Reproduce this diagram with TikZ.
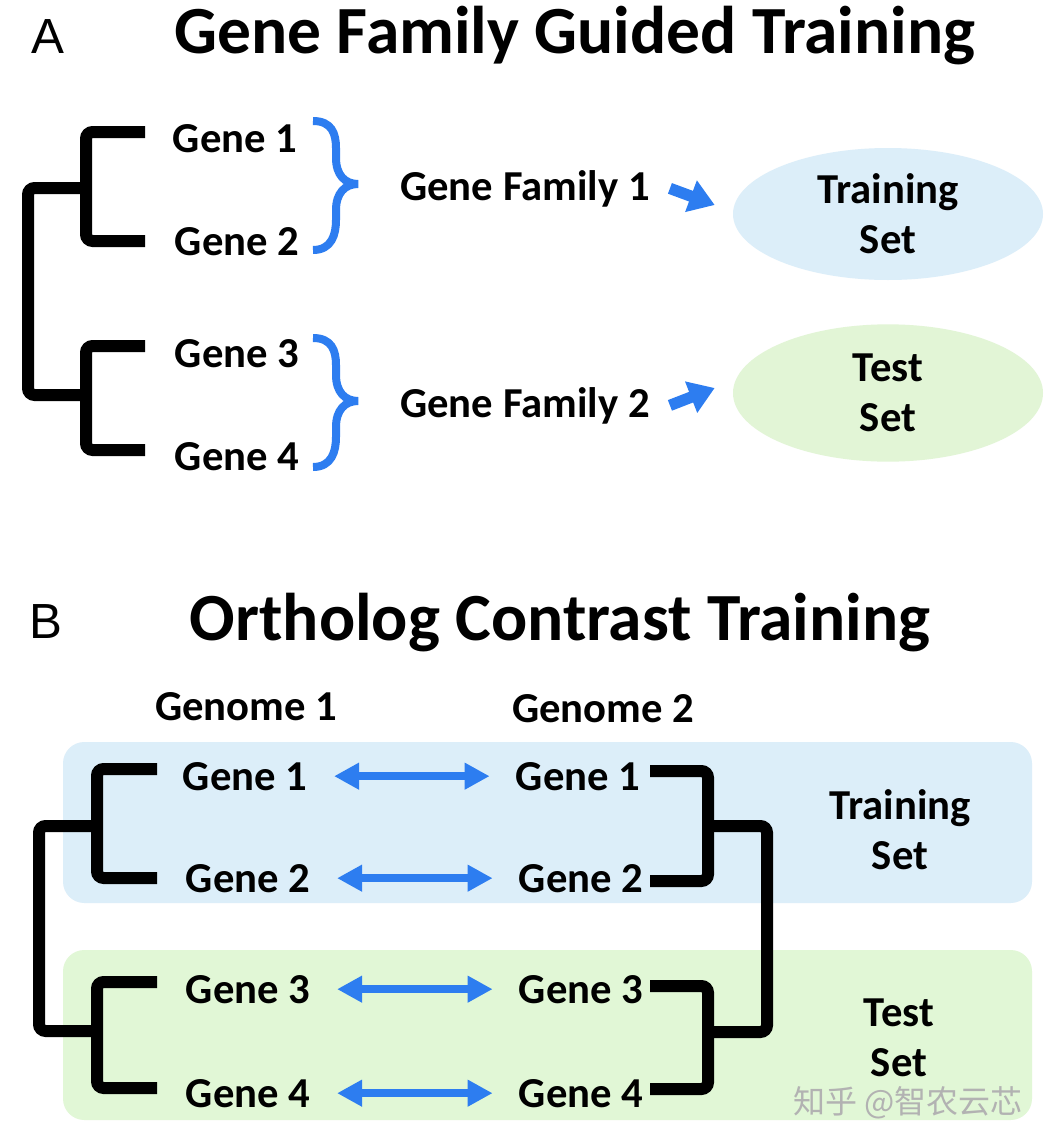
\documentclass[tikz,border=0pt]{standalone}
\usepackage{fontspec}
\setmainfont{Carlito}
\newfontfamily\lblfont{Liberation Sans}
\newfontfamily\cjkfont{Noto Sans CJK SC}
\usetikzlibrary{arrows.meta,shapes.geometric}
\definecolor{arrowblue}{RGB}{45,125,240}
\definecolor{bgblue}{RGB}{220,238,249}
\definecolor{bggreen}{RGB}{225,247,214}
\definecolor{elgreen}{RGB}{226,245,214}
\tikzset{
 tree/.style={line width=9pt, rounded corners=5pt},
 gene/.style={font=\bfseries\fontsize{32}{38}\selectfont, inner sep=0pt, anchor=base},
 titletext/.style={font=\bfseries\fontsize{50.6}{60}\selectfont, inner sep=0pt, anchor=base},
 panellabel/.style={font=\lblfont\fontsize{37}{44}\selectfont, inner sep=0pt, anchor=base},
 setlabel/.style={font=\bfseries\fontsize{32}{37.5}\selectfont, align=center, inner sep=0pt},
 bracestyle/.style={draw=arrowblue, line width=6pt},
 blockarrow/.style={draw=arrowblue, line width=8.5pt, -{Triangle[length=19pt,width=24pt]}},
 dblarrow/.style={draw=arrowblue, line width=6pt,
   {Triangle[length=18.75pt,width=19pt]}-{Triangle[length=18.75pt,width=19pt]},
   shorten <=20pt, shorten >=19.5pt},
 gbrace/.pic={\draw[bracestyle] (-45,-63) .. controls (-26,-63) and (-22,-50) .. (-22,-36) -- (-22,-26)
   .. controls (-22,-9) and (-13,0) .. (0,0)
   .. controls (-13,0) and (-22,9) .. (-22,26) -- (-22,36)
   .. controls (-22,50) and (-26,66) .. (-45,66);}
}
\begin{document}
\begin{tikzpicture}[x=0.75pt,y=-0.75pt]
\useasboundingbox[fill=white] (0,0) rectangle (1047,1142);

% ---------------- Panel A ----------------
\node[panellabel] (labA) at (48,53) {A};
\node[titletext] (titleA) at (575,53) {Gene Family Guided Training};

\node[gene] (ga1) at (235,152) {Gene 1};
\node[gene] (ga2) at (237,255) {Gene 2};
\node[gene] (ga3) at (237,367) {Gene 3};
\node[gene] (ga4) at (237,470) {Gene 4};

\draw[tree] (145,132) -- (86,132) -- (86,241) -- (145,241);
\draw[tree] (145,346) -- (86,346) -- (86,450) -- (145,450);
\draw[tree] (86,188) -- (28,188) -- (28,395) -- (86,395);

\pic (braceA1) at (358,184) {gbrace};
\pic (braceA2) at (358,401) {gbrace};

\node[gene] (gf1) at (525,200) {Gene Family 1};
\node[gene] (gf2) at (525,417) {Gene Family 2};

\node[ellipse, fill=bgblue, minimum width=232.5pt, minimum height=99pt, setlabel] (train) at (888,214) {Training\\Set};
\node[ellipse, fill=elgreen, minimum width=232.5pt, minimum height=103pt, setlabel] (test) at (888,393) {Test\\Set};

\draw[blockarrow] ([shift={(20,0)}]gf1.east) -- ([shift={(-18,-9)}]train.west);
\draw[blockarrow] ([shift={(20,0)}]gf2.east) -- ([shift={(-18,-5)}]test.west);

% ---------------- Panel B ----------------
\node[panellabel] (labB) at (46,638) {B};
\node[titletext] (titleB) at (560,640) {Ortholog Contrast Training};

\node[gene] (genome1) at (246,720) {Genome 1};
\node[gene] (genome2) at (603,722) {Genome 2};

\fill[bgblue, rounded corners=16pt] (63,742) rectangle (1032,903);
\fill[bggreen, rounded corners=16pt] (63,950) rectangle (1032,1120);

\node[gene] (l1) at (245,790) {Gene 1};
\node[gene] (l2) at (248,892) {Gene 2};
\node[gene] (l3) at (248,1003) {Gene 3};
\node[gene] (l4) at (248,1107) {Gene 4};

\node[gene] (r1) at (578,790) {Gene 1};
\node[gene] (r2) at (581,892) {Gene 2};
\node[gene] (r3) at (581,1003) {Gene 3};
\node[gene] (r4) at (581,1107) {Gene 4};

\draw[dblarrow] (l1.east) -- (r1.west);
\draw[dblarrow] (l2.east) -- (r2.west);
\draw[dblarrow] (l3.east) -- (r3.west);
\draw[dblarrow] (l4.east) -- (r4.west);

% left tree
\draw[tree] (157,769) -- (97,769) -- (97,878) -- (157,878);
\draw[tree] (157,982) -- (97,982) -- (97,1088) -- (157,1088);
\draw[tree] (97,826) -- (39,826) -- (39,1031) -- (97,1031);
% right tree
\draw[tree] (650,771) -- (708,771) -- (708,881) -- (650,881);
\draw[tree] (650,986) -- (708,986) -- (708,1089) -- (650,1089);
\draw[tree] (708,826) -- (767,826) -- (767,1032) -- (708,1032);

\node[setlabel] (trainB) at (900,830) {Training\\Set};
\node[setlabel] (testB) at (899,1038) {Test\\Set};

\node[font=\cjkfont\fontsize{24}{28}\selectfont, text=black!30, inner sep=0pt] (wm) at (908,1103) {知乎 @智农云芯};
\end{tikzpicture}
\end{document}
